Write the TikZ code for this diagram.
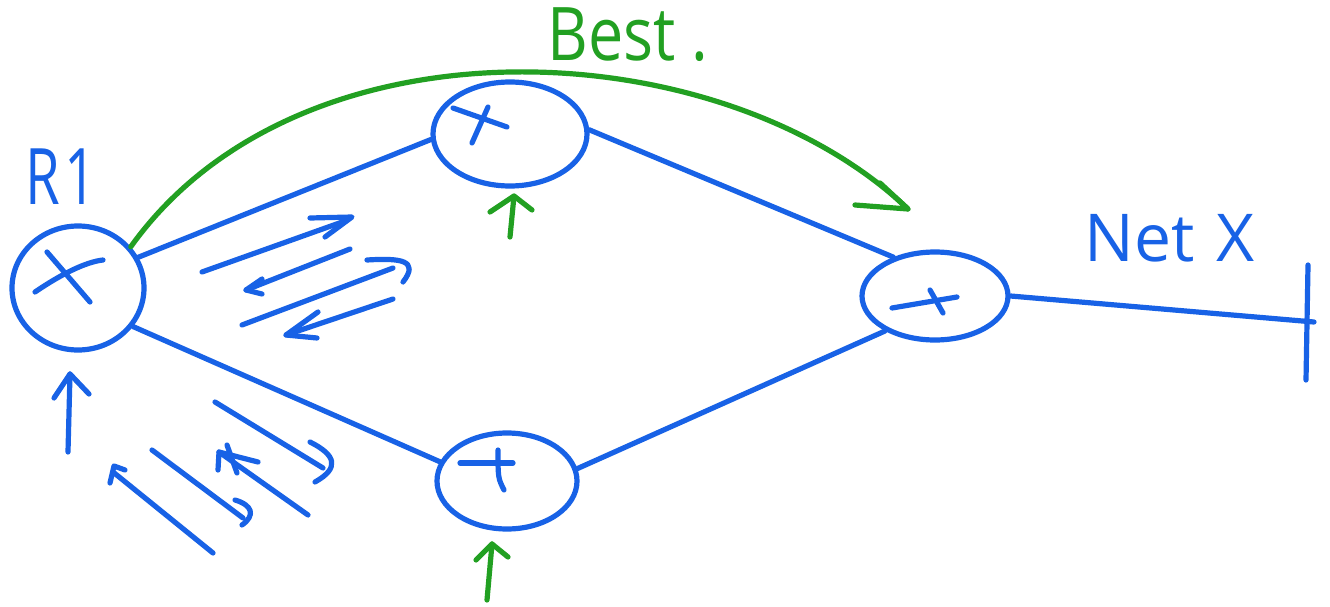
\documentclass[tikz,border=0pt]{standalone}
\usepackage{fontspec}
\setmainfont{Open Sans}
\usetikzlibrary{shapes.geometric}
\definecolor{inkblue}{RGB}{24,98,230}
\definecolor{inkgreen}{RGB}{34,160,34}
\begin{document}
\begin{tikzpicture}[x=1pt,y=-1pt,
  pen/.style={line width=5.2pt,line cap=round,line join=round},
  bluepen/.style={pen,draw=inkblue},
  greenpen/.style={pen,draw=inkgreen},
  router/.style={ellipse,draw=inkblue,line width=5.2pt,inner sep=0pt},
  handtext/.style={inner sep=0pt}]
\useasboundingbox[fill=white] (0,0) rectangle (1330,607);

% routers
\node[router,minimum width=132pt,minimum height=124pt] (r1) at (78,288) {};
\node[router,minimum width=154pt,minimum height=104pt] (ra) at (510,134) {};
\node[router,minimum width=140pt,minimum height=96pt]  (rb) at (507,481) {};
\node[router,minimum width=146pt,minimum height=88pt]  (rc) at (935,296) {};

% marks inside the routers
\draw[bluepen] (47,252) -- (90,302);
\draw[bluepen] (35,292) .. controls (60,275) and (85,262) .. (103,260);
\draw[bluepen] (453,108) -- (507,127);
\draw[bluepen] (488,107) -- (472,143);
\draw[bluepen] (460,463) -- (513,463);
\draw[bluepen] (498,450) .. controls (498,478) .. (504,490);
\draw[bluepen] (892,308) -- (957,297);
\draw[bluepen] (930,290) -- (943,313);

% labels
\node[handtext,text=inkblue,xscale=0.72,font=\fontsize{78}{78}\selectfont] (lr1) at (61,177) {R\hspace{6pt}1};
\node[handtext,text=inkblue,font=\fontsize{66}{66}\selectfont] (lnet) at (1170,238) {Net\hspace{22pt}X};
\node[handtext,text=inkgreen,xscale=0.85,font=\fontsize{74}{74}\selectfont] (lbest) at (628,35) {Best\hspace{18pt}.};

% links
\draw[bluepen] (r1.27) -- (ra.184);
\draw[bluepen] (ra.3) -- (rc.137);
\draw[bluepen] (r1.-35) -- (rb.164);
\draw[bluepen] (rb.10) -- (rc.215);
\coordinate (netend) at (1314,322);
\coordinate (bartop) at (1308,265);
\coordinate (barbot) at (1306,380);
\draw[bluepen] (rc.east) -- (netend);
\draw[bluepen] (bartop) -- (barbot);

% best path
\coordinate (bestend) at (908,209);
\draw[greenpen] (r1.38) .. controls (300,10) and (720,30) .. (bestend);
\draw[greenpen] (855,205) -- (bestend) -- (880,183);

% small green arrows
\draw[greenpen] (510,237) -- (514,196);
\draw[greenpen] (490,212) -- (514,196) -- (532,210);
\draw[greenpen] (487,600) -- (492,544);
\draw[greenpen] (476,560) -- (492,544) -- (508,557);

% blue arrow below R1
\draw[bluepen] (68,452) -- (70,374);
\draw[bluepen] (54,398) -- (70,374) -- (89,394);

% updates flowing along the upper link
\draw[bluepen] (202,272) -- (345,221);
\draw[bluepen] (310,218) -- (352,217) -- (325,237);
\draw[bluepen] (350,249) -- (246,290);
\draw[bluepen] (262,279) -- (246,290) -- (262,294);
\draw[bluepen] (242,325) -- (393,268);
\draw[bluepen] (367,260) .. controls (400,258) and (420,260) .. (403,282);
\draw[bluepen] (393,299) -- (286,335);
\draw[bluepen] (318,312) -- (286,335) -- (317,338);

% updates flowing along the lower link
\draw[bluepen] (215,402) -- (323,468);
\draw[bluepen] (310,442) .. controls (336,455) and (340,468) .. (315,482);
\draw[bluepen] (152,450) -- (243,518);
\draw[bluepen] (235,500) .. controls (252,505) and (256,515) .. (242,525);
\draw[bluepen] (213,553) -- (113,472);
\draw[bluepen] (110,483) -- (114,466) -- (125,470);
\draw[bluepen] (308,515) -- (219,452);
\draw[bluepen] (218,470) -- (219,452) -- (258,462);
\draw[bluepen] (227,445) -- (237,473);
\end{tikzpicture}
\end{document}
